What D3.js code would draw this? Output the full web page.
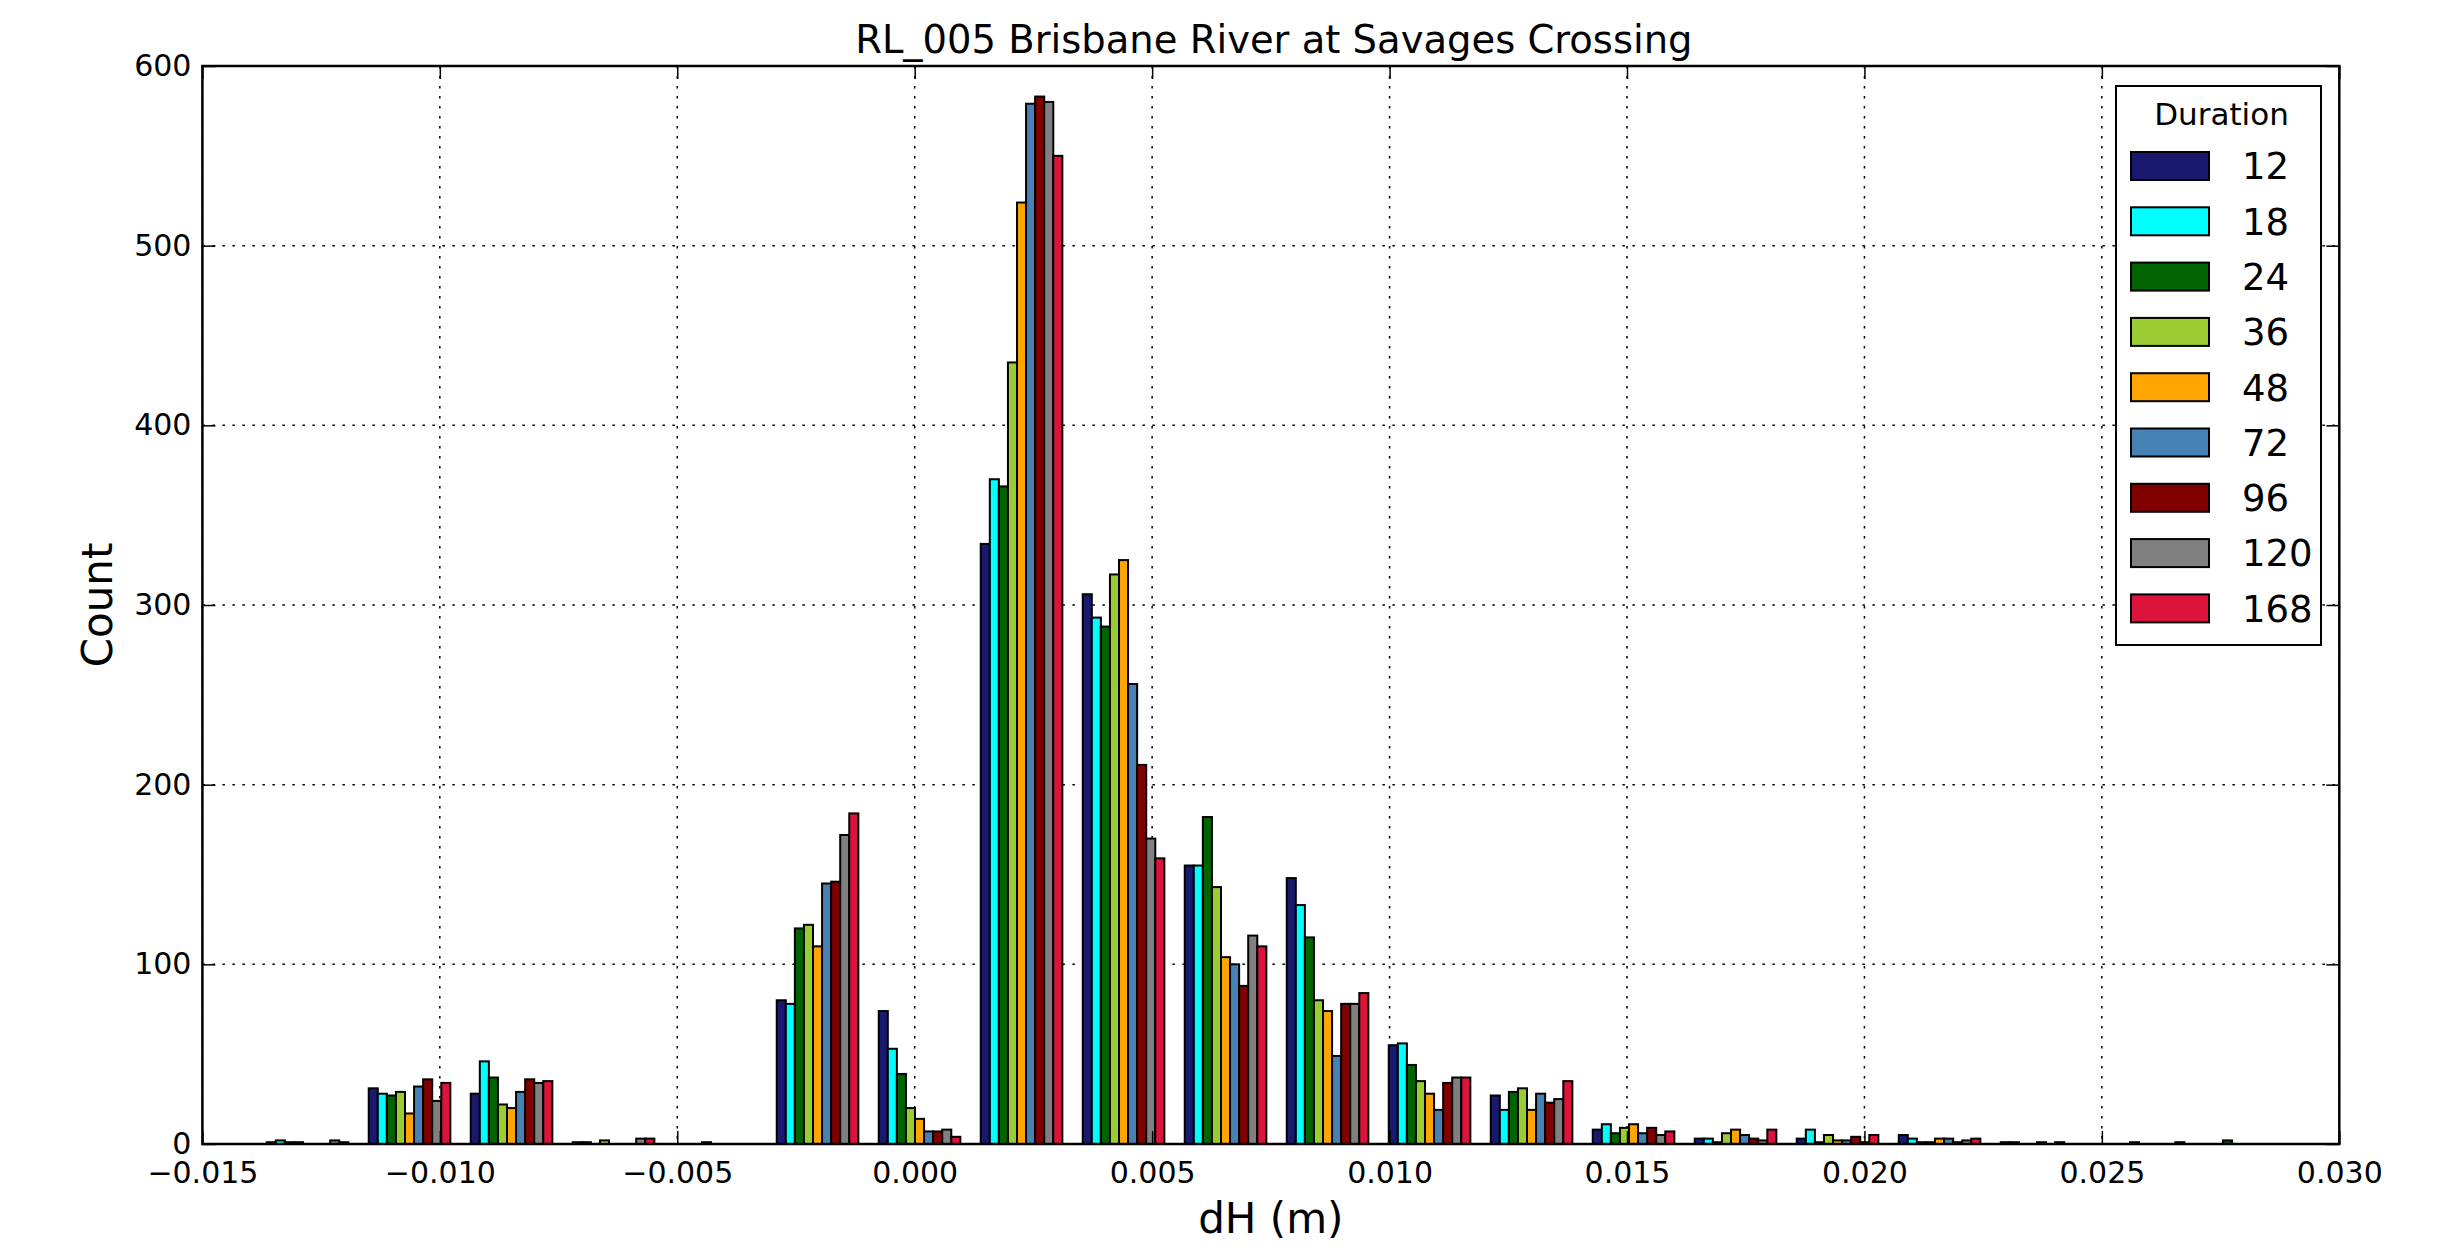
<!DOCTYPE html>
<html>
<head>
<meta charset="utf-8">
<script src="https://cdn.jsdelivr.net/npm/d3@7"></script>
<style>
  html, body { margin: 0; padding: 0; background: #fff; }
  svg { display: block; }
  text { font-family: "DejaVu Sans", sans-serif; fill: #000; }
</style>
</head>
<body>
<svg id="chart" width="2460" height="1255"></svg>
<script>
// ---- data ----
const title = "RL_005 Brisbane River at Savages Crossing";
const xLabel = "dH (m)";
const yLabel = "Count";
const legendTitle = "Duration";

const binEdges = [-0.013860, -0.011712, -0.009564, -0.007416, -0.005268, -0.003120,
  -0.000972, 0.001176, 0.003324, 0.005472, 0.007620, 0.009768, 0.011916, 0.014064,
  0.016212, 0.018360, 0.020508, 0.022656, 0.024804, 0.026952, 0.029100];

const durations = ["12", "18", "24", "36", "48", "72", "96", "120", "168"];
const colors = ["#191970", "#00FFFF", "#006400", "#9ACD32", "#FFA500", "#4682B4", "#800000", "#808080", "#DC143C"];

const counts12  = [1, 31, 28, 1, 0,  80, 74, 334, 306, 155, 148, 55, 27,  8, 3, 3, 5, 1, 0, 0];
const counts18  = [2, 28, 46, 1, 0,  78, 53, 370, 293, 155, 133, 56, 19, 11, 3, 8, 3, 1, 0, 0];
const counts24  = [1, 27, 37, 0, 0, 120, 39, 366, 288, 182, 115, 44, 29,  6, 1, 1, 1, 0, 0, 2];
const counts36  = [1, 29, 22, 2, 1, 122, 20, 435, 317, 143,  80, 35, 31,  9, 6, 5, 1, 0, 1, 0];
const counts48  = [0, 17, 20, 0, 0, 110, 14, 524, 325, 104,  74, 28, 19, 11, 8, 2, 3, 1, 0, 0];
const counts72  = [0, 32, 29, 0, 0, 145,  7, 579, 256, 100,  49, 19, 28,  6, 5, 2, 3, 0, 0, 0];
const counts96  = [0, 36, 36, 0, 0, 146,  7, 583, 211,  88,  78, 34, 23,  9, 3, 4, 1, 1, 0, 0];
const counts120 = [2, 24, 34, 3, 0, 172,  8, 580, 170, 116,  78, 37, 25,  5, 2, 1, 2, 0, 0, 0];
const counts168 = [1, 34, 35, 3, 0, 184,  4, 550, 159, 110,  84, 37, 35,  7, 8, 5, 3, 0, 1, 0];

const seriesCounts = [counts12, counts18, counts24, counts36, counts48, counts72, counts96, counts120, counts168];

const xTicks = [-0.015, -0.010, -0.005, 0.000, 0.005, 0.010, 0.015, 0.020, 0.025, 0.030];
const yTicks = [0, 100, 200, 300, 400, 500, 600];

// ---- layout ----
const svg = d3.select("#chart");
const L = 202.4, R = 2339.3, T = 66, B = 1144;

const x = d3.scaleLinear().domain([-0.015, 0.030]).range([L, R]);
const y = d3.scaleLinear().domain([0, 600]).range([B, T]);

const fmtX = v => {
  const s = Math.abs(v).toFixed(3);
  return (v < -1e-12 ? "\u2212" : "") + s;
};

// grid
const grid = svg.append("g");
xTicks.forEach(t => {
  grid.append("line").attr("x1", x(t)).attr("x2", x(t)).attr("y1", T).attr("y2", B)
    .attr("stroke", "#000").attr("stroke-width", 1.5).attr("stroke-dasharray", "2.5,7.5");
});
yTicks.forEach(t => {
  grid.append("line").attr("x1", L).attr("x2", R).attr("y1", y(t)).attr("y2", y(t))
    .attr("stroke", "#000").attr("stroke-width", 1.5).attr("stroke-dasharray", "2.5,7.5");
});

// bars
const nS = seriesCounts.length;
const bars = svg.append("g");
seriesCounts.forEach((arr, j) => {
  arr.forEach((c, k) => {
    if (c <= 0) return;
    const w = binEdges[k + 1] - binEdges[k];
    const bw = 0.8 * w / nS;
    const x0 = binEdges[k] + 0.1 * w + j * bw;
    bars.append("rect")
      .attr("x", x(x0))
      .attr("width", x(x0 + bw) - x(x0))
      .attr("y", y(c))
      .attr("height", y(0) - y(c))
      .attr("fill", colors[j])
      .attr("stroke", "#000")
      .attr("stroke-width", 2);
  });
});

// axes (ticks inward on all sides)
const tickLen = 13;
const axX = d3.axisBottom(x).tickValues(xTicks).tickFormat(fmtX).tickSizeInner(-tickLen).tickSizeOuter(0).tickPadding(18);
const axXTop = d3.axisTop(x).tickValues(xTicks).tickFormat("").tickSizeInner(-tickLen).tickSizeOuter(0);
const axY = d3.axisLeft(y).tickValues(yTicks).tickFormat(d3.format("d")).tickSizeInner(-tickLen).tickSizeOuter(0).tickPadding(11);
const axYR = d3.axisRight(y).tickValues(yTicks).tickFormat("").tickSizeInner(-tickLen).tickSizeOuter(0);

function styleAxis(g) {
  g.select(".domain").remove();
  g.selectAll(".tick line").attr("stroke", "#000").attr("stroke-width", 1.5);
  g.selectAll(".tick text").attr("font-size", 30).attr("font-family", "DejaVu Sans, sans-serif").attr("fill", "#000");
}
svg.append("g").attr("transform", `translate(0,${B})`).call(axX).call(styleAxis);
svg.append("g").attr("transform", `translate(0,${T})`).call(axXTop).call(styleAxis);
svg.append("g").attr("transform", `translate(${L},0)`).call(axY).call(styleAxis);
svg.append("g").attr("transform", `translate(${R},0)`).call(axYR).call(styleAxis);

// frame
svg.append("rect").attr("x", L).attr("y", T).attr("width", R - L).attr("height", B - T)
  .attr("fill", "none").attr("stroke", "#000").attr("stroke-width", 2.5);

// title and labels
svg.append("text").attr("x", (L + R) / 2 + 3).attr("y", 53).attr("text-anchor", "middle")
  .attr("font-size", 38.5).text(title);
svg.append("text").attr("x", (L + R) / 2).attr("y", 1233).attr("text-anchor", "middle")
  .attr("font-size", 42).text(xLabel);
svg.append("text").attr("transform", `translate(112,${(T + B) / 2}) rotate(-90)`).attr("text-anchor", "middle")
  .attr("font-size", 42).text(yLabel);

// legend
const lg = svg.append("g");
const lx = 2116, ly = 86, lw = 205, lh = 559;
lg.append("rect").attr("x", lx).attr("y", ly).attr("width", lw).attr("height", lh)
  .attr("fill", "#fff").attr("stroke", "#000").attr("stroke-width", 2);
lg.append("text").attr("x", lx + lw / 2 + 3).attr("y", 114).attr("dy", "0.36em").attr("text-anchor", "middle")
  .attr("font-size", 31).text(legendTitle);
durations.forEach((d, i) => {
  const cy = 166 + i * 55.3;
  lg.append("rect").attr("x", 2131).attr("y", cy - 14).attr("width", 78).attr("height", 28)
    .attr("fill", colors[i]).attr("stroke", "#000").attr("stroke-width", 2);
  lg.append("text").attr("x", 2242).attr("y", cy).attr("dy", "0.36em")
    .attr("font-size", 37).text(d);
});
</script>
</body>
</html>
